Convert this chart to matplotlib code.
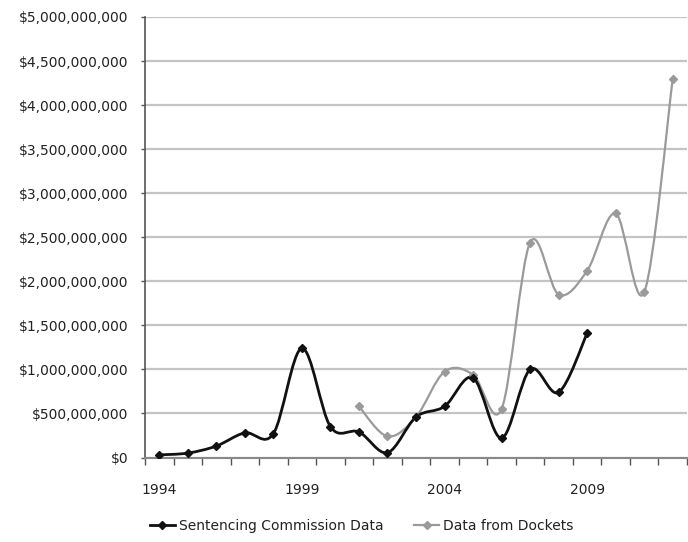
import numpy as np
import matplotlib
matplotlib.use("Agg")
import matplotlib.pyplot as plt
from matplotlib.path import Path
from matplotlib.patches import PathPatch
from matplotlib.lines import Line2D
from matplotlib.ticker import FuncFormatter

# data (dollars)
years = list(range(1994, 2013))
commission = [30e6, 50e6, 130e6, 280e6, 270e6, 1.24e9, 350e6, 290e6, 55e6,
              460e6, 580e6, 905e6, 220e6, 1.0e9, 740e6, 1.41e9,
              None, None, None]
dockets = [None, None, None, None, None, None, None, 580e6, 240e6,
           460e6, 975e6, 940e6, 550e6, 2.44e9, 1.85e9, 2.12e9,
           2.77e9, 1.875e9, 4.3e9]
tick_years = [1994, 1999, 2004, 2009]


def smooth_path(xs, ys):
    # excel style smoothed line: catmull-rom as cubic bezier
    n = len(xs)
    verts = [(xs[0], ys[0])]
    codes = [Path.MOVETO]
    for i in range(n - 1):
        a = i - 1 if i > 0 else i
        d = i + 2 if i + 2 < n else i + 1
        c1 = (xs[i] + (xs[i + 1] - xs[a]) / 6, ys[i] + (ys[i + 1] - ys[a]) / 6)
        c2 = (xs[i + 1] - (xs[d] - xs[i]) / 6, ys[i + 1] - (ys[d] - ys[i]) / 6)
        verts += [c1, c2, (xs[i + 1], ys[i + 1])]
        codes += [Path.CURVE4] * 3
    return Path(verts, codes)


def draw_series(ax, values, color, lw, ms):
    pts = [(i, v) for i, v in enumerate(values) if v is not None]
    xs = [p[0] for p in pts]
    ys = [p[1] for p in pts]
    ax.add_patch(PathPatch(smooth_path(xs, ys), facecolor="none",
                           edgecolor=color, lw=lw, zorder=3,
                           capstyle="round", joinstyle="round"))
    ax.plot(xs, ys, ls="none", marker="D", ms=ms, color=color, zorder=4)


plt.rcParams["font.family"] = ["DejaVu Sans"]
fig = plt.figure(figsize=(6.88, 5.42), dpi=100)
ax = fig.add_axes([145 / 688, 1 - 457.5 / 542, 542 / 688, 440.5 / 542])

draw_series(ax, dockets, "#9a9a9a", 1.6, 4)
draw_series(ax, commission, "#111111", 2.0, 4.5)

ax.set_xlim(-0.5, len(years) - 0.5)
ax.set_ylim(0, 5e9)
ax.set_yticks(np.arange(0, 5.01e9, 5e8))
ax.yaxis.set_major_formatter(FuncFormatter(lambda v, p: "${:,.0f}".format(v)))
ax.set_xticks([years.index(y) for y in tick_years])
ax.set_xticklabels([str(y) for y in tick_years])
ax.set_xticks(np.arange(-0.5, len(years), 1), minor=True)

ax.grid(axis="y", color="#c4c4c4", lw=1.6, zorder=0)
ax.set_axisbelow(True)
for s in ["top", "right"]:
    ax.spines[s].set_visible(False)
ax.spines["left"].set_color("#555555")
ax.spines["left"].set_linewidth(1.2)
ax.spines["bottom"].set_color("#888888")
ax.spines["bottom"].set_linewidth(1.5)

ax.tick_params(axis="y", length=3, width=1, color="#555555", pad=9,
               labelsize=10, labelcolor="#222222")
ax.tick_params(axis="x", which="major", length=0, pad=18,
               labelsize=10, labelcolor="#222222")
ax.tick_params(axis="x", which="minor", length=5, width=1, color="#555555")

handles = [
    Line2D([], [], color="#111111", lw=2.0, marker="D", ms=4.5),
    Line2D([], [], color="#9a9a9a", lw=1.6, marker="D", ms=4),
]
fig.legend(handles, ["Sentencing Commission Data", "Data from Dockets"],
           loc="center", bbox_to_anchor=(0.526, 1 - 526 / 542), ncol=2,
           frameon=False, fontsize=10, handlelength=1.8, handletextpad=0.3,
           columnspacing=2.2, labelcolor="#222222")

fig.savefig("out.png", dpi=100)
